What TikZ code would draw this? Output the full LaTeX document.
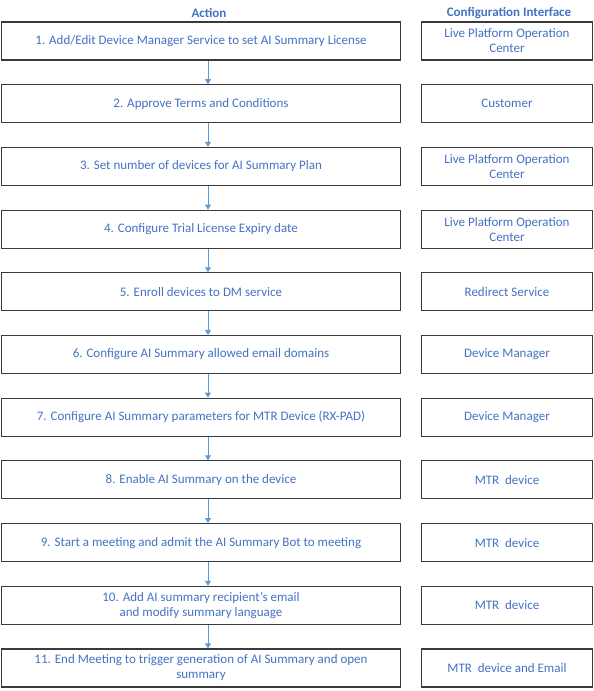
\documentclass[tikz,border=0pt]{standalone}
\usepackage{fontspec}
\setmainfont{Carlito}
\definecolor{stepblue}{HTML}{4472C4}
\definecolor{arrowblue}{HTML}{5B9BD5}
\definecolor{boxline}{HTML}{3A3A3A}
\usetikzlibrary{arrows.meta}

\begin{document}
\begin{tikzpicture}[x=1pt,y=1pt,
    act/.style={draw=boxline,line width=1.1pt,fill=white,
      minimum width=399pt,minimum height=38pt,inner sep=0pt,
      align=center,font=\fontsize{13}{15}\selectfont,text=stepblue},
    itf/.style={draw=boxline,line width=1.1pt,fill=white,
      minimum width=171pt,minimum height=38pt,inner sep=0pt,
      align=center,font=\fontsize{13}{15}\selectfont,text=stepblue},
    hdr/.style={font=\fontsize{13}{15}\selectfont\bfseries,text=stepblue},
    ar/.style={-{Triangle[length=5pt,width=6pt]},arrowblue,line width=0.9pt},
  ]
    \useasboundingbox (0,0) rectangle (594,-691);

    \node[hdr] (ha) at (209,-13) {Action};
    \node[hdr] (hc) at (509,-13) {Configuration Interface};

    % action column
    \node[act] (a1) at (201,-41) {1. Add/Edit Device Manager Service to set AI Summary License};
    \node[act] (a2) at (201,-103.7) {2. Approve Terms and Conditions};
    \node[act] (a3) at (201,-166.4) {3. Set number of devices for AI Summary Plan};
    \node[act] (a4) at (201,-229.1) {4. Configure Trial License Expiry date};
    \node[act] (a5) at (201,-291.8) {5. Enroll devices to DM service};
    \node[act] (a6) at (201,-354.5) {6. Configure AI Summary allowed email domains};
    \node[act] (a7) at (201,-417.2) {7. Configure AI Summary parameters for MTR Device (RX-PAD)};
    \node[act] (a8) at (201,-479.9) {8. Enable AI Summary on the device};
    \node[act] (a9) at (201,-542.6) {9. Start a meeting and admit the AI Summary Bot to meeting};
    \node[act] (a10) at (201,-605.3)
      {10. Add AI summary recipient's email\\and modify summary language};
    \node[act] (a11) at (201,-668)
      {11. End Meeting to trigger generation of AI Summary and open\\summary};

    % configuration interface column
    \node[itf] (c1) at (507,-41) {Live Platform Operation\\Center};
    \node[itf] (c2) at (507,-103.7) {Customer};
    \node[itf] (c3) at (507,-166.4) {Live Platform Operation\\Center};
    \node[itf] (c4) at (507,-229.1) {Live Platform Operation\\Center};
    \node[itf] (c5) at (507,-291.8) {Redirect Service};
    \node[itf] (c6) at (507,-354.5) {Device Manager};
    \node[itf] (c7) at (507,-417.2) {Device Manager};
    \node[itf] (c8) at (507,-479.9) {MTR\ \ device};
    \node[itf] (c9) at (507,-542.6) {MTR\ \ device};
    \node[itf] (c10) at (507,-605.3) {MTR\ \ device};
    \node[itf] (c11) at (507,-668) {MTR\ \ device and Email};

    \draw[ar]([xshift=7pt]a1.south)--([xshift=7pt]a2.north);
    \draw[ar]([xshift=7pt]a2.south)--([xshift=7pt]a3.north);
    \draw[ar]([xshift=7pt]a3.south)--([xshift=7pt]a4.north);
    \draw[ar]([xshift=7pt]a4.south)--([xshift=7pt]a5.north);
    \draw[ar]([xshift=7pt]a5.south)--([xshift=7pt]a6.north);
    \draw[ar]([xshift=7pt]a6.south)--([xshift=7pt]a7.north);
    \draw[ar]([xshift=7pt]a7.south)--([xshift=7pt]a8.north);
    \draw[ar]([xshift=7pt]a8.south)--([xshift=7pt]a9.north);
    \draw[ar]([xshift=7pt]a9.south)--([xshift=7pt]a10.north);
    \draw[ar]([xshift=7pt]a10.south)--([xshift=7pt]a11.north);
\end{tikzpicture}
\end{document}
